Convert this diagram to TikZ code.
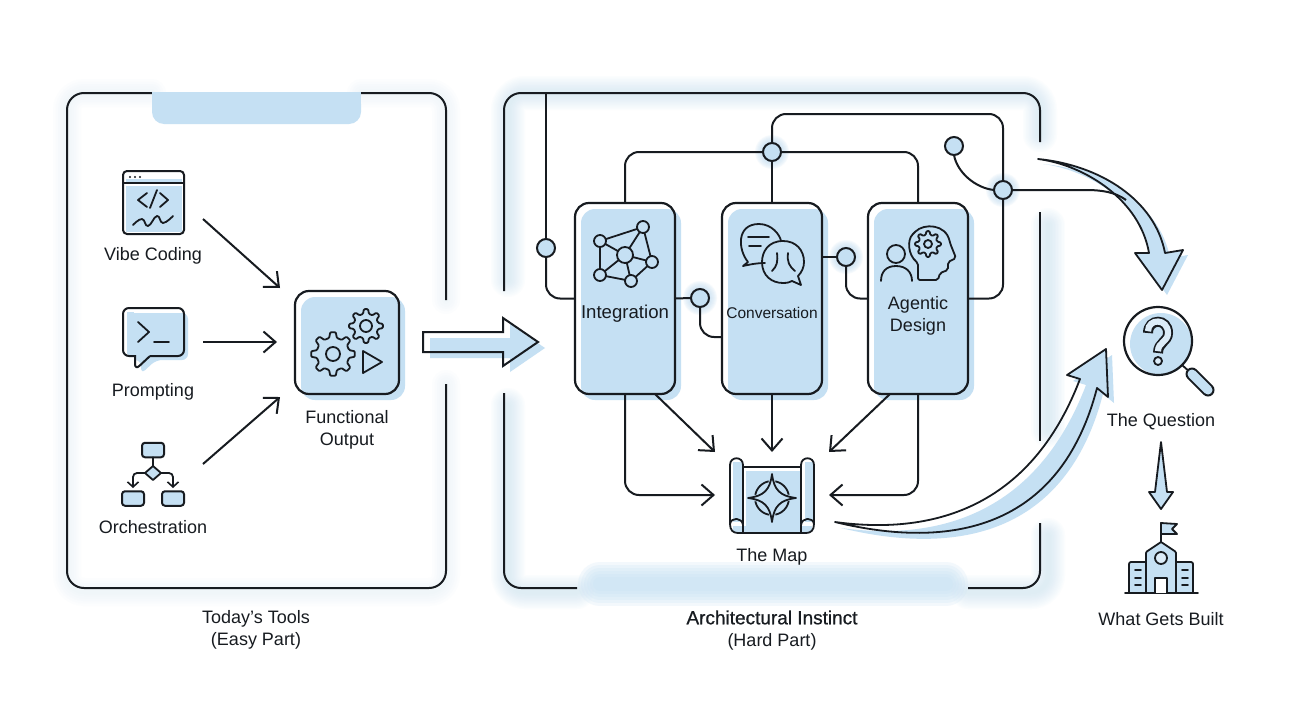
\documentclass[tikz,border=0pt]{standalone}
\usepackage{fontspec}
\setmainfont{Liberation Sans}
\newfontfamily\medfont[FakeBold=0.8]{Liberation Sans}
\usetikzlibrary{arrows.meta,shadows,calc}
\definecolor{sky}{HTML}{C5E0F3}
\definecolor{ink}{HTML}{171B20}
\tikzset{
  every node/.style={inner sep=0pt,outer sep=0pt},
  wire/.style={draw=ink,line width=2pt,rounded corners=14pt},
  thin wire/.style={draw=ink,line width=1.8pt,line join=round,line cap=round},
  open arrow/.style={draw=ink,line width=2pt,rounded corners=14pt,-{Straight Barb[length=12pt,width=21pt,line width=2pt]}},
  card/.style={draw=ink,line width=2.2pt,rounded corners=14pt,minimum width=100pt,minimum height=191pt,
    general shadow={shadow xshift=6pt,shadow yshift=-6pt,fill=sky,draw=none}},
  fcard/.style={draw=ink,line width=2.2pt,rounded corners=14pt,minimum width=104pt,minimum height=103pt,
    general shadow={shadow xshift=6pt,shadow yshift=-6pt,fill=sky,draw=none}},
  junction/.style={circle,draw=ink,line width=2pt,fill=sky,minimum size=18pt},
  hub/.style={draw=none,fill=none},
  label/.style={text=ink,font=\fontsize{18}{22.5}\selectfont,align=center,yshift=-2pt},
  glowline/.style={draw=sky,opacity=0.06,rounded corners=17pt,line cap=round},
}
\newcommand{\glowpath}[1]{\foreach \gw in {34,31,28,25,22,19,16,13,10,7,4}{\path[glowline,line width=\gw pt] #1;}}
\newcommand{\glowfaint}[1]{\foreach \gw in {28,23,18,13,8,4}{\path[glowline,opacity=0.04,line width=\gw pt] #1;}}
\newcommand{\halo}[2]{\foreach \gr in {17,16,15,14,13,12,11}{\fill[sky,opacity=0.14] (#1,#2) circle (\gr pt);}}
\newcommand{\gearicon}[6]{%
  \begin{scope}[shift={(#1,#2)}]
    \pgfmathsetmacro{\gs}{360/#6}
    \draw[thin wire,rounded corners=1pt] (-0.3*\gs:#4)
      \foreach \gi [evaluate=\gi as \ga using (\gi-1)*\gs] in {1,...,#6}{
        -- (\ga-0.3*\gs:#4) -- (\ga-0.16*\gs:#3) -- (\ga+0.16*\gs:#3) -- (\ga+0.3*\gs:#4)
      } -- cycle;
    \draw[thin wire] (0,0) circle (#5 pt);
  \end{scope}}
\begin{document}
\begin{tikzpicture}[x=1pt,y=-1pt]
\useasboundingbox (0,0) rectangle (1290,720);
\fill[white] (0,0) rectangle (1290,720);

% glows
\glowfaint{(152,93) -- (67,93) -- (67,592) -- (446,592) -- (446,384)}
\glowfaint{(361,93) -- (446,93) -- (446,300)}
\glowpath{(508,280) -- (508,93) -- (1040,93) -- (1040,135)}
\glowpath{(1048,225) -- (1048,430)}
\glowpath{(1048,535) -- (1048,592) -- (968,592)}
\glowpath{(508,405) -- (508,592) -- (577,592)}
\halo{772}{152}\halo{1003}{190}\halo{700}{298}\halo{846}{257}
\foreach \gw in {44,38,32,26,20,14}{\path[draw=sky,opacity=0.2,line cap=round,line width=\gw pt] (600,584) -- (946,584);}

% left panel
\draw[wire,rounded corners=17pt] (152,93) -- (67,93) -- (67,588) -- (446,588) -- (446,384);
\draw[wire,rounded corners=17pt] (361,93) -- (446,93) -- (446,300);
\fill[sky,rounded corners=12pt] (152,92) -- (152,124) -- (361,124) -- (361,92) [sharp corners] -- cycle;
\fill[sky] (152,92) rectangle (361,106);

% right panel
\draw[wire,rounded corners=17pt] (504,291) -- (504,93) -- (1040,93) -- (1040,142);
\draw[wire] (1040,212) -- (1040,441);
\draw[wire,rounded corners=17pt] (1040,523) -- (1040,588) -- (968,588);
\draw[wire,rounded corners=17pt] (504,393) -- (504,588) -- (577,588);

% vibe coding icon
\fill[sky] (126,186) rectangle (182,232);
\fill[sky] (126,179) rectangle (182,182);
\node[draw=ink,line width=2pt,rounded corners=4pt,minimum width=61pt,minimum height=63pt] (vibe) at (153.5,202.5) {};
\draw[thin wire] (123,183) -- (184,183);
\foreach \dx in {130,135,140}{\fill[ink] (\dx,177) circle (1.2pt);}
\draw[thin wire] (147,193) -- (138,200) -- (147,207);
\draw[thin wire] (157,190) -- (150,208);
\draw[thin wire] (160,193) -- (168,200) -- (160,207);
\draw[thin wire] plot[smooth,tension=.8] coordinates {(133,225)(142,219)(148,226)(157,216)(163,223)(173,216)};
\node[label] (vibelabel) at (153,254) {Vibe Coding};

% prompting icon
\fill[sky,rounded corners=6pt] (128,313) -- (188,313) -- (188,360) -- (156,360) -- (141,374) -- (141,360) -- (128,360) -- cycle;
\fill[white] (123,356.5) -- (136,356.5) -- (136,372) -- (125,372) -- cycle;
\fill[sky] (127,312) rectangle (134,354);
\draw[wire,rounded corners=6pt] (150,356) -- (135,370) [sharp corners] -- (135,356) [rounded corners=6pt] -- (123,356) -- (123,308) -- (184,308) -- (184,356) -- (150,356);
\draw[thin wire] (138,322) -- (149,332) -- (138,342);
\draw[thin wire] (154,342) -- (169,342);
\node[label] (promptlabel) at (153,390) {Prompting};

% orchestration icon
\tikzset{orbox/.style={draw=ink,line width=2pt,fill=sky,rounded corners=3pt,minimum width=22pt,minimum height=14.5pt}}
\node[orbox] (otop) at (153,450) {};
\node[orbox] (oleft) at (133,498.5) {};
\node[orbox] (oright) at (173,498.5) {};
\draw[thin wire,fill=sky] (153,466) -- (161,473) -- (153,480) -- (145,473) -- cycle;
\draw[thin wire] (otop.south) -- (153,466);
\draw[draw=ink,line width=1.8pt,rounded corners=4pt,-{Straight Barb[length=5pt,width=11pt,line width=1.6pt]}] (145,473) -- (133,473) -- (133,488);
\draw[draw=ink,line width=1.8pt,rounded corners=4pt,-{Straight Barb[length=5pt,width=11pt,line width=1.6pt]}] (161,473) -- (173,473) -- (173,488);
\node[label] (orchlabel) at (153,525) {Orchestration};

% functional output
\node[fcard] (func) at (347,342.5) {};
\gearicon{333}{354}{22}{16.5}{7}{8}
\gearicon{366}{326}{17}{12.5}{6}{8}
\draw[thin wire] (363,351) -- (382,362) -- (363,373) -- cycle;
\node[label] (funclabel) at (347,428) {Functional\\Output};
\node[hub,minimum width=134pt,minimum height=109pt] (fhub) at (347,342.5) {};
\coordinate (vibeout) at (203,219);
\coordinate (promptout) at (203,342);
\coordinate (orchout) at (203,464);
\draw[open arrow] (vibeout) -- (fhub.north west);
\draw[open arrow] (promptout) -- (277,342);
\draw[open arrow] (orchout) -- (fhub.south west);

% hollow arrow between panels
\begin{scope}[shift={(7,6)}]
\fill[sky] (423,332) -- (503,332) -- (503,318) -- (538,342) -- (503,366) -- (503,352) -- (423,352) -- cycle;
\end{scope}
\draw[wire,rounded corners=0pt,line join=miter] (423,332) -- (503,332) -- (503,318) -- (538,342) -- (503,366) -- (503,352) -- (423,352) -- cycle;

% cards
\node[card] (integ) at (625,298.5) {};
\node[card] (conv) at (772,298.5) {};
\node[card] (agent) at (918,298.5) {};
\node[label,font=\fontsize{18.6}{22}\selectfont] (integlabel) at (625,312) {Integration};
\node[label,font=\fontsize{15.5}{19}\selectfont] (convlabel) at (772,311) {Conversation};
\node[label] (agentlabel) at (918,314) {Agentic\\Design};

% junctions
\node[junction] (j1) at (772,152) {};
\node[junction] (j2) at (700,298) {};
\node[junction] (j3) at (846,257) {};
\node[junction] (j4) at (1003,190) {};
\node[junction,fill=sky] (j5) at (546,248) {};
\node[junction] (j6) at (954,146) {};
\coordinate (toptap) at (546,93);
\coordinate (ctop1) at (772,114);
\coordinate (ctop2) at (1003,114);
\coordinate (convin) at (722,337);
\coordinate (convout) at (822,257);
\draw[wire] (toptap) -- (j5.north);
\draw[wire] (j5.south) |- (integ.west);
\draw[wire] (integ.north) |- (j1.west);
\draw[wire] (j1.east) -| (agent.north);
\draw[wire] (conv.north) -- (j1.south);
\draw[wire] (j1.north) -- (ctop1) -- (ctop2) -- (j4.north);
\draw[wire] (j4.south) |- (agent.east);
\draw[wire] (integ.east) -- (j2.west);
\draw[wire] (j2.south) |- (convin);
\draw[wire] (convout) -- (j3.west);
\draw[wire] (j3.south) |- (agent.west);
\draw[wire,rounded corners=0pt] (j6.south) .. controls (957,172) and (975,188) .. (j4.west);

% integration icon
\tikzset{netdot/.style={circle,draw=ink,line width=1.8pt,fill=sky,minimum size=12pt}}
\draw[thin wire] (625,255) -- (600,241) (625,255) -- (643,227) (625,255) -- (652,262) (625,255) -- (631,281) (625,255) -- (600,275);
\draw[thin wire] (600,241) -- (643,227) -- (652,262) -- (631,281) -- (600,275) -- cycle;
\node[netdot,minimum size=16pt] (n0) at (625,255) {};
\node[netdot] (n1) at (600,241) {};
\node[netdot] (n2) at (643,227) {};
\node[netdot] (n3) at (652,262) {};
\node[netdot] (n4) at (631,281) {};
\node[netdot] (n5) at (600,275) {};

% conversation icon
\draw[thin wire] (748,262) .. controls (738,250) and (736,224) .. (759,224) .. controls (772,224) and (780,235) .. (781,241)
   (765,263) .. controls (758,263) and (752,264) .. (743,266) -- (748,262);
\draw[thin wire] (748,237) -- (769,237) (749,246) -- (761,246);
\draw[thin wire] (783,241) .. controls (768,241) and (762,252) .. (762,262) .. controls (762,276) and (772,283) .. (783,283)
   .. controls (788,283) and (790,282) .. (792,281) -- (801,285) -- (798,276) .. controls (802,272) and (804,267) .. (804,262)
   .. controls (804,250) and (796,241) .. (783,241) -- cycle;
\draw[thin wire] (777,253) .. controls (778,262) and (777,266) .. (772,271);
\draw[thin wire] (788,253) .. controls (787,262) and (789,266) .. (795,271);

% agentic icon
\draw[thin wire] (896,254) circle (9pt);
\draw[thin wire] (881,281) .. controls (881,272) and (886,266) .. (896,266) .. controls (906,266) and (912,272) .. (912,281);
\draw[thin wire,rounded corners=2pt] (918,280) -- (918,263) .. controls (908,255) and (907,240) .. (914,233)
  .. controls (924,223) and (946,224) .. (950,243) -- (956,258) -- (948,262) -- (948,270) -- (940,273) -- (938,280) -- cycle;
\gearicon{928}{244}{13}{9.5}{4}{8}

% the map
\node[hub,minimum width=114pt,minimum height=86pt] (maphub) at (772,495) {};
\coordinate (dl) at (655,394);
\coordinate (dr) at (890,394);
\draw[open arrow] (integ.south) |- (maphub.west);
\draw[open arrow] (dl) -- (maphub.north west);
\draw[open arrow] (conv.south) -- (maphub.north);
\draw[open arrow] (dr) -- (maphub.north east);
\draw[open arrow] (agent.south) |- (maphub.east);
\fill[sky] (746,471) rectangle (800,529);
\fill[sky] (733,462) rectangle (742,522);
\fill[sky] (805,462) rectangle (813,522);
\fill[sky] (733,526) rectangle (812,532);
\draw[thin wire] (743,467) -- (801,467);
\draw[thin wire] (743,524) -- (743,465) .. controls (743,456) and (730,456) .. (730,465) -- (730,524) .. controls (730,530) and (733,533) .. (738,533) -- (806,533) .. controls (811,533) and (814,530) .. (814,524) -- (814,465) .. controls (814,456) and (801,456) .. (801,465) -- (801,524);
\draw[thin wire] (730,524) .. controls (731,517) and (742,517) .. (743,525) -- (743,533);
\draw[thin wire] (814,524) .. controls (813,517) and (802,517) .. (801,525) -- (801,533);
\draw[thin wire,line cap=butt,dash pattern=on 20pt off 6.7pt,dash phase=23.35pt] (772,498) circle (17pt);
\draw[thin wire,fill=sky] (772,474) .. controls (774,490) and (780,496) .. (796,498) .. controls (780,500) and (774,506) .. (772,522) .. controls (770,506) and (764,500) .. (748,498) .. controls (764,496) and (770,490) .. (772,474) -- cycle;
\node[label] (maplabel) at (772,555) {The Map};

% big arrow to question
\begin{scope}[shift={(5,5)}]
\fill[sky] (1038,159) .. controls (1100,165) and (1155,200) .. (1165,253) -- (1183,250) -- (1162,290) -- (1135,253) -- (1149,253) .. controls (1140,200) and (1085,165) .. (1038,159) -- cycle;
\end{scope}
\fill[sky] (1038,159) .. controls (1100,165) and (1155,200) .. (1165,253) -- (1183,250) -- (1162,290) -- (1135,253) -- (1149,253) .. controls (1140,200) and (1085,165) .. (1038,159) -- cycle;
\draw[wire,rounded corners=0pt] (j4.east) -- (1085,190) .. controls (1102,190) and (1115,192) .. (1126,200);
\draw[thin wire] (1038,159) .. controls (1100,165) and (1155,200) .. (1165,253) -- (1183,250) -- (1162,290) -- (1135,253) -- (1149,253) .. controls (1140,200) and (1085,165) .. (1038,159) -- cycle;

% big arrow from map
\begin{scope}[shift={(6,6)}]
\fill[sky] (835,522) .. controls (950,550) and (1060,530) .. (1097,388) -- (1108,397) -- (1106,349) -- (1067,375) -- (1080,379) .. controls (1030,510) and (930,535) .. (835,522) -- cycle;
\end{scope}
\fill[sky] (1097,388) -- (1108,397) -- (1106,349) -- (1067,375) -- (1080,379) -- cycle;
\draw[thin wire] (835,522) .. controls (950,550) and (1060,530) .. (1097,388) -- (1108,397) -- (1106,349) -- (1067,375) -- (1080,379) .. controls (1030,510) and (930,535) .. (835,522) -- cycle;

% question icon
\fill[sky] (1161,344) circle (31pt);
\node[circle,draw=ink,line width=2.2pt,minimum size=68pt] (q) at (1158,341) {};
\coordinate (handlein) at (1191,373);
\draw[thin wire] (q.south east) -- (handlein);
\draw[ink,line width=13pt,line cap=round] (1192,374) -- (1208,390);
\draw[sky,line width=9pt,line cap=round] (1192,374) -- (1208,390);
\draw[ink,line width=10pt,line cap=butt] (1148,333) .. controls (1148,318) and (1168,318) .. (1168,333) .. controls (1168,342) and (1158,342) .. (1158,353);
\draw[sky!60!white,line width=6.2pt,line cap=butt,shorten <=1.8pt,shorten >=1.8pt] (1148,333) .. controls (1148,318) and (1168,318) .. (1168,333) .. controls (1168,342) and (1158,342) .. (1158,353);
\draw[thin wire,fill=sky!60!white] (1158,361) circle (4pt);
\node[label] (qlabel) at (1161,420) {The Question};

% down arrow
\coordinate (qout) at (1161,442);
\coordinate (tip) at (1161,509);
\draw[thin wire,fill=sky] (qout) -- (1167,492) -- (1173,492) -- (tip) -- (1149,492) -- (1155,492) -- cycle;

% building
\fill[sky] (1130,563) rectangle (1192,592);
\fill[sky] (1147,552) -- (1161,543) -- (1175,552) -- (1175,592) -- (1147,592) -- cycle;
\draw[thin wire] (1125,593) -- (1198,593);
\draw[thin wire,rounded corners=2pt] (1129,593) -- (1129,562) -- (1146,562);
\draw[thin wire,rounded corners=2pt] (1193,593) -- (1193,562) -- (1176,562);
\draw[thin wire,rounded corners=1pt] (1146,593) -- (1146,552) -- (1161,542) -- (1176,552) -- (1176,593);
\draw[thin wire,fill=white!40!sky] (1161,558) circle (6pt);
\draw[thin wire,fill=white] (1155,593) -- (1155,578) -- (1167,578) -- (1167,593);
\foreach \wy in {570,578,585}{
  \draw[thin wire] (1135,\wy) -- (1141,\wy);
  \draw[thin wire] (1182,\wy) -- (1188,\wy);
}
\draw[thin wire] (1161,542) -- (1161,523);
\draw[thin wire,fill=sky] (1161,523) -- (1177,524) -- (1172,529) -- (1177,534) -- (1161,534) -- cycle;
\node[label] (builtlabel) at (1161,617) {What Gets Built};

% captions
\node[label] (todaylabel) at (256,628) {Today's Tools\\(Easy Part)};
\node[label,font=\fontsize{19}{23}\selectfont] (archtitle) at (772,615.5) {\medfont Architectural Instinct};
\node[label] (archsub) at (772,640) {(Hard Part)};
\end{tikzpicture}
\end{document}
